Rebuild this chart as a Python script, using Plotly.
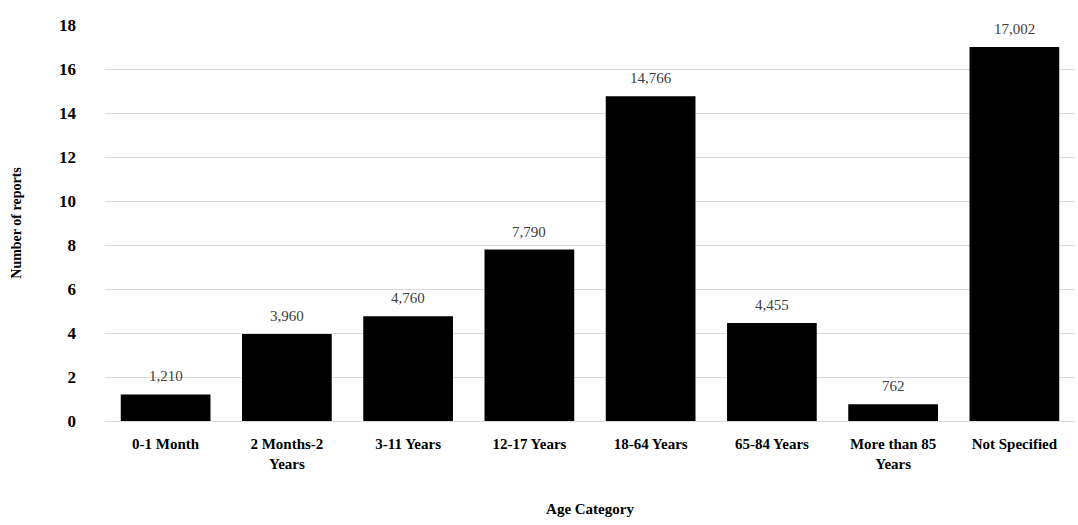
import plotly.graph_objects as go

# Age categories and report counts
categories = ["0-1 Month", "2 Months-2<br>Years", "3-11 Years", "12-17 Years",
              "18-64 Years", "65-84 Years", "More than 85<br>Years", "Not Specified"]
reports = [1210, 3960, 4760, 7790, 14766, 4455, 762, 17002]
y_ticks = [0, 2, 4, 6, 8, 10, 12, 14, 16, 18]

# Axis is expressed in thousands of reports
heights = [v / 1000 for v in reports]
labels = [f"{v:,}" for v in reports]

serif = "Palatino Linotype, Book Antiqua, Liberation Serif, DejaVu Serif, serif"

fig = go.Figure(go.Bar(
    x=categories,
    y=heights,
    marker=dict(color="black", line=dict(width=0)),
    cliponaxis=False,
))

# Value labels sitting above each bar
for cat, h, lab in zip(categories, heights, labels):
    fig.add_annotation(
        x=cat, y=h, text=lab, showarrow=False,
        yanchor="bottom", yshift=8,
        font=dict(family=serif, size=15, color="#404040"),
    )

fig.update_layout(
    width=1078, height=525,
    margin=dict(l=105, r=3, t=25, b=104),
    plot_bgcolor="white", paper_bgcolor="white",
    bargap=0.26,
    showlegend=False,
    font=dict(family=serif, color="black"),
)
fig.update_xaxes(
    showgrid=False, showline=False, ticks="",
    tickfont=dict(family=serif, size=15, color="black", weight="bold"),
    ticklabelstandoff=12,
    title=dict(text="<b>Age Category</b>", font=dict(family=serif, size=15), standoff=32),
)
fig.update_yaxes(
    range=[0, 18], tickvals=y_ticks,
    showgrid=True, gridcolor="#d9d9d9", gridwidth=1,
    zeroline=True, zerolinecolor="#d9d9d9", zerolinewidth=1,
    showline=False, ticks="",
    tickfont=dict(family=serif, size=17, color="black", weight="bold"),
    ticklabelstandoff=28,
    title=dict(text="<b>Number of reports</b>", font=dict(family=serif, size=14), standoff=34),
)

fig.write_html("out.html")
